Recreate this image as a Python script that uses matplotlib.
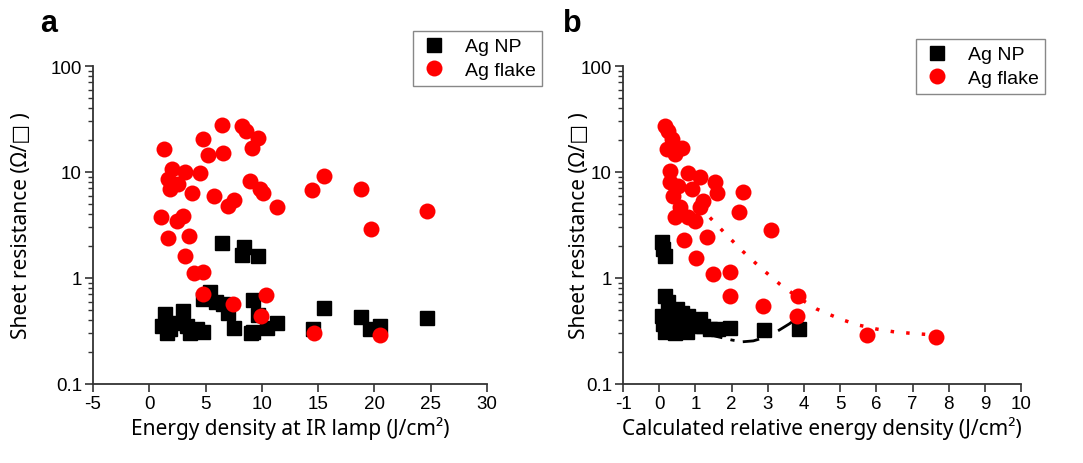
import matplotlib
matplotlib.use("Agg")
import matplotlib.pyplot as plt
from matplotlib.ticker import FixedLocator, LogLocator, NullFormatter

# panel a: energy density at IR lamp (J/cm2) vs sheet resistance (ohm/sq)
a_np_x = [6.43, 8.41, 9.68, 8.20, 5.39, 4.80, 5.92, 6.57, 7.02, 9.18, 1.39, 2.97,
          1.10, 1.84, 2.49, 3.32, 4.21, 4.80, 1.55, 3.61, 7.52, 9.00, 10.43, 11.31,
          9.68, 15.52, 18.80, 19.60, 20.49, 24.69, 14.56, 9.24]
a_np_y = [2.14, 1.95, 1.62, 1.65, 0.73, 0.63, 0.59, 0.57, 0.47, 0.62, 0.46, 0.49,
          0.355, 0.33, 0.38, 0.355, 0.33, 0.31, 0.30, 0.30, 0.335, 0.30, 0.34, 0.38,
          0.45, 0.52, 0.425, 0.33, 0.355, 0.42, 0.33, 0.31]
a_flake_x = [6.43, 8.21, 8.59, 9.68, 4.74, 9.09, 1.33, 5.24, 6.52, 1.99, 3.17, 4.50,
             1.69, 2.58, 1.84, 3.77, 5.75, 8.94, 9.83, 10.12, 7.52, 7.02, 11.31, 1.04,
             2.97, 2.43, 1.69, 3.55, 3.17, 3.97, 4.80, 4.80, 7.46, 10.36, 9.89, 15.52,
             14.42, 18.80, 24.64, 19.69, 14.65, 20.49]
a_flake_y = [27.7, 27.0, 24.5, 20.8, 20.5, 16.7, 16.5, 14.5, 15.0, 10.7, 9.9, 9.8,
             8.6, 7.7, 6.9, 6.4, 5.97, 8.3, 6.9, 6.4, 5.5, 4.75, 4.65, 3.79,
             3.87, 3.47, 2.37, 2.51, 1.60, 1.11, 1.15, 0.71, 0.57, 0.69, 0.44, 9.1,
             6.7, 6.9, 4.3, 2.9, 0.30, 0.29]

# panel b: calculated relative energy density (J/cm2) vs sheet resistance
b_np_x = [0.07, 0.11, 0.16, 0.16, 0.25, 0.48, 0.62, 0.07, 0.80, 1.13, 0.11, 0.35,
          0.76, 1.04, 1.40, 1.63, 1.96, 0.16, 0.44, 0.76, 2.90, 3.86, 1.21]
b_np_y = [2.17, 1.88, 1.62, 0.68, 0.59, 0.51, 0.47, 0.44, 0.44, 0.41, 0.37, 0.38,
          0.38, 0.355, 0.33, 0.33, 0.335, 0.31, 0.30, 0.31, 0.32, 0.33, 0.355]
b_flake_x = [0.16, 0.25, 0.35, 0.62, 0.21, 0.44, 0.30, 0.80, 1.13, 1.54, 0.30, 0.53,
             0.90, 1.59, 2.32, 0.39, 1.22, 1.13, 0.57, 2.21, 0.44, 0.80, 0.99, 3.08,
             0.69, 1.31, 1.01, 1.49, 1.96, 1.96, 2.88, 3.84, 3.80, 5.75, 7.65]
b_flake_y = [27.4, 24.5, 20.5, 16.7, 16.5, 14.8, 10.3, 9.8, 8.9, 8.1, 8.0, 7.4,
             6.9, 6.4, 6.5, 5.97, 5.36, 4.65, 4.65, 4.2, 3.74, 3.74, 3.47, 2.84,
             2.30, 2.42, 1.55, 1.09, 1.14, 0.68, 0.55, 0.68, 0.44, 0.29, 0.28]

# guide curves
fit_np_x = [1.3, 1.6, 2.0, 2.3, 2.6, 3.0, 3.3, 3.6, 3.85]
fit_np_y = [0.30, 0.28, 0.26, 0.25, 0.255, 0.28, 0.32, 0.37, 0.43]
fit_flake_x = [1.4, 1.85, 2.32, 2.8, 3.34, 3.85, 4.35, 5.0, 5.5, 6.0, 6.5, 7.0, 7.6]
fit_flake_y = [3.72, 2.57, 1.77, 1.25, 0.87, 0.65, 0.51, 0.41, 0.36, 0.33, 0.31, 0.30, 0.29]

LABEL_FONT = ["Noto Sans", "DejaVu Sans"]
plt.rcParams["font.family"] = ["Liberation Sans", "DejaVu Sans"]

fig = plt.figure(figsize=(10.83, 4.64), dpi=100)
ax_a = fig.add_axes([0.0859, 0.1703, 0.3638, 0.6853])
ax_b = fig.add_axes([0.5753, 0.1703, 0.3675, 0.6853])


def style_axis(ax, xlim, xticks, xlabel, ylabel_x):
    ax.set_yscale("log")
    ax.set_ylim(0.1, 100)
    ax.set_xlim(*xlim)
    ax.xaxis.set_major_locator(FixedLocator(xticks))
    ax.set_xticklabels([str(t) for t in xticks])
    ax.yaxis.set_major_locator(FixedLocator([0.1, 1, 10, 100]))
    ax.set_yticklabels(["0.1", "1", "10", "100"])
    ax.yaxis.set_minor_locator(LogLocator(base=10, subs=range(2, 10)))
    ax.yaxis.set_minor_formatter(NullFormatter())
    for side in ("top", "right"):
        ax.spines[side].set_visible(False)
    for side in ("left", "bottom"):
        ax.spines[side].set_linewidth(1.3)
        ax.spines[side].set_color("#333333")
    ax.tick_params(which="major", direction="out", length=6, width=1.2,
                   labelsize=13.5, color="#333333", pad=2)
    ax.tick_params(which="minor", direction="out", length=3.5, width=1.0,
                   color="#333333")
    ax.set_xlabel(xlabel, family=LABEL_FONT, fontsize=15)
    ax.set_ylabel("Sheet resistance (\u03a9/\u25a1 )", family=LABEL_FONT, fontsize=15)
    ax.xaxis.set_label_coords(0.5, -0.1)
    ax.yaxis.set_label_coords(ylabel_x, 0.5)


style_axis(ax_a, (-5, 30), [-5, 0, 5, 10, 15, 20, 25, 30],
           "Energy density at IR lamp (J/cm\u00b2)", -0.155)
style_axis(ax_b, (-1, 10), list(range(-1, 11)),
           "Calculated relative energy density (J/cm\u00b2)", -0.082)

ax_a.plot(a_np_x, a_np_y, "s", ms=9.5, color="black", label="Ag NP", clip_on=False)
ax_a.plot(a_flake_x, a_flake_y, "o", ms=11.5, color="#ff0000", mec="none",
          label="Ag flake", clip_on=False)

ax_b.plot(fit_np_x, fit_np_y, color="black", lw=2, linestyle=(0, (6, 3, 1.5, 3)))
ax_b.plot(fit_flake_x, fit_flake_y, color="#ff0000", lw=2.5, linestyle=(0, (1, 3.5)))
ax_b.plot(b_np_x, b_np_y, "s", ms=9.5, color="black", label="Ag NP", clip_on=False)
ax_b.plot(b_flake_x, b_flake_y, "o", ms=11.5, color="#ff0000", mec="none",
          label="Ag flake", clip_on=False)

for ax, anchor in ((ax_a, (413 / 1083, 1 - 32 / 464)), (ax_b, (916 / 1083, 1 - 40 / 464))):
    leg = ax.legend(loc="upper left", bbox_to_anchor=anchor, bbox_transform=fig.transFigure,
                    borderaxespad=0, fontsize=14, fancybox=False, framealpha=1,
                    handletextpad=0.8, borderpad=0.35, labelspacing=0.3,
                    handlelength=1.5)
    leg.get_frame().set_edgecolor("#888888")
    leg.get_frame().set_linewidth(1.0)

fig.text(40 / 1083, 1 - 24 / 464, "a", fontsize=22, fontweight="bold", va="center")
fig.text(563 / 1083, 1 - 24 / 464, "b", fontsize=22, fontweight="bold", va="center")

fig.savefig("out.png", dpi=100)
